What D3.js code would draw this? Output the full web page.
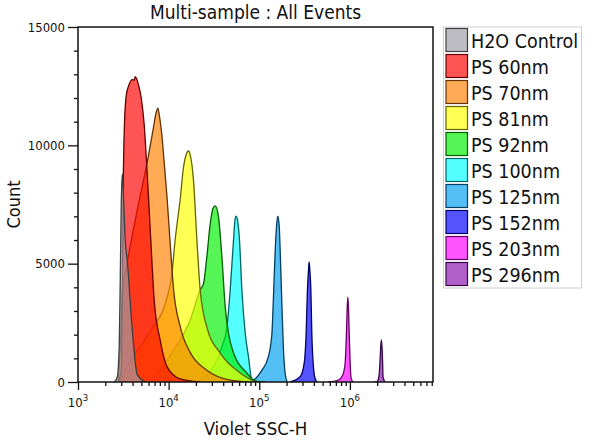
<!DOCTYPE html>
<html><head><meta charset="utf-8">
<script src="https://cdn.jsdelivr.net/npm/d3@7"></script>
<style>
body{margin:0;background:#fff;}
svg text{font-family:"DejaVu Sans Condensed","DejaVu Sans",sans-serif;font-stretch:condensed;fill:#111;}
</style></head><body>
<svg id="chart" width="600" height="441"></svg>
<script>
const title = "Multi-sample : All Events";
const xLabel = "Violet SSC-H";
const yLabel = "Count";
const seriesNames = ["H2O Control","PS 60nm","PS 70nm","PS 81nm","PS 92nm","PS 100nm","PS 125nm","PS 152nm","PS 203nm","PS 296nm"];
const seriesColors = ["#9d9da5","#ff0000","#ff8000","#ffff00","#00f000","#00ffff","#00a0f0","#0000ff","#ff00ff","#8a10b0"];
const yTicks = [0,5000,10000,15000];
const xDecades = [1e3,1e4,1e5,1e6];
const xDecadeLabels = ["3","4","5","6"];

// [Violet SSC-H, count]
const h2oControl = [[2520,0],[2710,200],[2850,1500],[2930,4500],[3000,7500],[3080,8800],[3200,7500],[3320,6000],[3500,5100],[3970,2200],[4510,300],[5520,0]];
const ps60 = [[2780,0],[3000,500],[3080,3460],[3150,8100],[3240,10650],[3410,12120],[3680,12590],[3970,12780],[4150,12750],[4290,12900],[4450,12800],[4620,12600],[4990,12000],[5380,10860],[5810,8750],[6270,6420],[6930,3460],[8070,1770],[9660,630],[13400,130],[22300,0]];
const ps70 = [[2780,0],[2930,1500],[3080,3800],[3500,5070],[4510,7270],[5960,9520],[6760,10700],[7300,11400],[7620,11575],[7870,11300],[8390,10500],[8920,9300],[9600,7800],[10430,5800],[11280,4000],[13400,2350],[17400,1230],[26400,500],[47800,80],[79000,0]];
const ps81 = [[2930,0],[3320,500],[4070,1060],[6760,2340],[9170,3300],[10960,4700],[11800,6000],[12700,7000],[13400,7700],[14500,9000],[15600,9600],[16600,9760],[17300,9600],[18800,8530],[20500,6000],[22300,3890],[26400,2320],[37100,1220],[61600,380],[90200,0]];
const ps92 = [[6270,0],[8070,500],[10400,1140],[13400,1770],[17300,2620],[22300,3890],[24300,4170],[26400,5290],[28800,6700],[31000,7350],[32700,7440],[35500,6980],[38700,5290],[42100,3180],[45700,2070],[52000,1225],[72900,380],[90200,50],[116000,0]];
const ps100 = [[19600,0],[22300,85],[31300,650],[38700,1490],[44000,2340],[47800,3890],[52000,6000],[54200,6900],[55600,7010],[57800,6800],[60500,6000],[64300,3890],[70000,2070],[76000,1070],[82800,85],[92500,0]];
const ps125 = [[70000,0],[86300,85],[107000,500],[126000,1070],[138000,2060],[143000,3460],[150000,5580],[156000,6700],[160000,7010],[166000,6600],[170000,5580],[177000,3460],[185000,1350],[193000,370],[203000,0]];
const ps152 = [[219000,0],[282000,220],[313000,790],[329000,2060],[340000,3890],[349000,4700],[355000,5070],[362000,4700],[371000,3890],[380000,2060],[396000,650],[413000,150],[435000,0]];
const ps203 = [[574000,0],[746000,85],[835000,300],[886000,790],[916000,2060],[933000,3100],[949000,3590],[966000,3100],[982000,2060],[1007000,790],[1032000,150],[1084000,0]];
const ps296 = [[1849000,0],[2011000,30],[2100000,300],[2153000,930],[2191000,1500],[2225000,1775],[2259000,1500],[2293000,930],[2321000,220],[2443000,0]];

const seriesData = [h2oControl,ps60,ps70,ps81,ps92,ps100,ps125,ps152,ps203,ps296];

const svg = d3.select("#chart");
const L=78,R=433,T=27,B=382;
const x = d3.scaleLog().domain([1000,8.26e6]).range([L,R]);
const y = d3.scaleLinear().domain([0,15000]).range([B,T]);
const FILL_OP = 0.67;

svg.append("defs").append("clipPath").attr("id","plotclip")
  .append("rect").attr("x",L).attr("y",T).attr("width",R-L).attr("height",B-T);

const area = d3.area().x(d=>x(d[0])).y0(y(0)).y1(d=>y(d[1])).curve(d3.curveMonotoneX);
const line = d3.line().x(d=>x(d[0])).y(d=>y(d[1])).curve(d3.curveMonotoneX);

const plot = svg.append("g").attr("clip-path","url(#plotclip)");
const order = d3.range(seriesData.length).reverse();
order.forEach(i=>{
  const c = seriesColors[i];
  plot.append("path").datum(seriesData[i]).attr("d",area)
    .attr("fill",c).attr("fill-opacity",FILL_OP).attr("stroke","none");
  plot.append("path").datum(seriesData[i]).attr("d",line)
    .attr("fill","none").attr("stroke",d3.color(c).darker(2.6).formatHex())
    .attr("stroke-width",1.3).attr("stroke-linejoin","round");
});

// frame
svg.append("rect").attr("x",L).attr("y",T).attr("width",R-L).attr("height",B-T)
  .attr("fill","none").attr("stroke","#111").attr("stroke-width",1.5);

// y axis
const yMinor = d3.range(0,15001,1000).filter(v=>!yTicks.includes(v));
const yAxisMajor = d3.axisLeft(y).tickValues(yTicks).tickSize(10).tickPadding(3).tickFormat(d3.format("d"));
const gy = svg.append("g").attr("transform",`translate(${L},0)`).call(yAxisMajor);
const gyMinor = svg.append("g").attr("transform",`translate(${L},0)`).call(d3.axisLeft(y).tickValues(yMinor).tickSize(4).tickFormat(""));
[gy,gyMinor].forEach(g=>{g.select(".domain").remove();g.selectAll("line").attr("stroke","#111").attr("stroke-width",1.3);});
gy.selectAll("text").style("font-size","13px").attr("fill","#111");

// x axis
const xMinor = [];
xDecades.forEach(d=>{for(let k=2;k<=9;k++){const v=d*k; if(v<=8.26e6) xMinor.push(v);}});
const gx = svg.append("g").attr("transform",`translate(0,${B})`).call(d3.axisBottom(x).tickValues(xDecades).tickSize(8).tickFormat(""));
const gxMinor = svg.append("g").attr("transform",`translate(0,${B})`).call(d3.axisBottom(x).tickValues(xMinor).tickSize(4).tickFormat(""));
[gx,gxMinor].forEach(g=>{g.select(".domain").remove();g.selectAll("line").attr("stroke","#111").attr("stroke-width",1.3);});
xDecades.forEach((d,i)=>{
  const t = svg.append("text").attr("x",x(d)).attr("y",407).attr("text-anchor","middle").style("font-size","13px");
  t.append("tspan").text("10");
  t.append("tspan").text(xDecadeLabels[i]).attr("dy",-6).style("font-size","9.5px");
});

// labels
svg.append("text").attr("x",(L+R)/2).attr("y",19).attr("text-anchor","middle").style("font-size","19px").text(title);
svg.append("text").attr("x",(L+R)/2).attr("y",435).attr("text-anchor","middle").style("font-size","18.5px").text(xLabel);
svg.append("text").attr("transform",`translate(20,${(T+B)/2}) rotate(-90)`).attr("text-anchor","middle").style("font-size","18px").text(yLabel);

// legend
const lg = svg.append("g");
lg.append("rect").attr("x",443.5).attr("y",27).attr("width",138).attr("height",261).attr("fill","#fff").attr("stroke","#cfcfcf").attr("stroke-width",1);
seriesNames.forEach((n,i)=>{
  const yy = 28.5 + i*26;
  const c = d3.color(seriesColors[i]);
  const mix = d3.rgb(c.r*FILL_OP+255*(1-FILL_OP), c.g*FILL_OP+255*(1-FILL_OP), c.b*FILL_OP+255*(1-FILL_OP));
  lg.append("rect").attr("x",446).attr("y",yy).attr("width",21.5).attr("height",23)
    .attr("fill",mix.formatHex()).attr("stroke",d3.color(seriesColors[i]).darker(2.6).formatHex()).attr("stroke-width",1.2);
  lg.append("text").attr("x",471).attr("y",yy+19).style("font-size","19.5px").text(n);
});
</script>
</body></html>
